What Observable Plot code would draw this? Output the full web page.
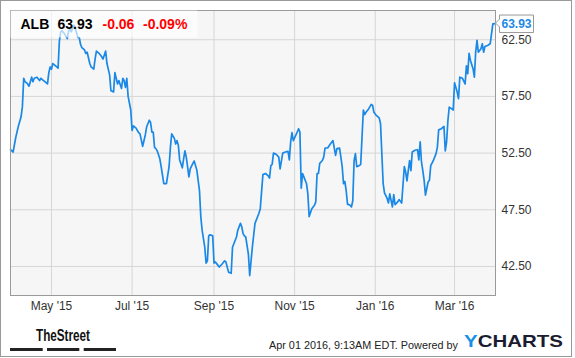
<!DOCTYPE html>
<html><head><meta charset="utf-8">
<script src="https://cdn.jsdelivr.net/npm/d3@7"></script>
<script src="https://cdn.jsdelivr.net/npm/@observablehq/plot@0.6"></script>
<style>
html,body{margin:0;padding:0;background:#fff;}
#chart{position:absolute;left:0;top:0;width:575px;height:358px;overflow:hidden;}
</style>
</head><body>
<div id="chart"></div>
<script>
const ticker = "ALB";
const lastPrice = "63.93";
const change = "-0.06";
const changePct = "-0.09%";
const stamp = "Apr 01 2016, 9:13AM EDT. Powered by";

const dates = [
"2015-03-31","2015-04-02","2015-04-04","2015-04-06","2015-04-08","2015-04-09","2015-04-10","2015-04-11","2015-04-13","2015-04-14",
"2015-04-16","2015-04-17","2015-04-18","2015-04-20","2015-04-22","2015-04-23","2015-04-25","2015-04-26","2015-04-28","2015-04-29",
"2015-04-30","2015-05-01","2015-05-02","2015-05-03","2015-05-05","2015-05-06","2015-05-07","2015-05-08","2015-05-09","2015-05-11",
"2015-05-13","2015-05-14","2015-05-15","2015-05-16","2015-05-18","2015-05-19","2015-05-21","2015-05-22","2015-05-23","2015-05-24",
"2015-05-26","2015-05-27","2015-05-28","2015-05-30","2015-05-31","2015-06-02","2015-06-03","2015-06-04","2015-06-06","2015-06-08",
"2015-06-09","2015-06-11","2015-06-12","2015-06-14","2015-06-15","2015-06-17","2015-06-18","2015-06-20","2015-06-21","2015-06-23",
"2015-06-24","2015-06-25","2015-06-26","2015-06-27","2015-06-28","2015-06-30","2015-07-01","2015-07-02","2015-07-04","2015-07-06",
"2015-07-07","2015-07-09","2015-07-11","2015-07-12","2015-07-14","2015-07-15","2015-07-16","2015-07-17","2015-07-18","2015-07-19",
"2015-07-20","2015-07-22","2015-07-23","2015-07-25","2015-07-26","2015-07-27","2015-07-29","2015-07-30","2015-07-31","2015-08-02",
"2015-08-03","2015-08-04","2015-08-05","2015-08-06","2015-08-08","2015-08-09","2015-08-10","2015-08-11","2015-08-12","2015-08-13",
"2015-08-14","2015-08-16","2015-08-17","2015-08-19","2015-08-20","2015-08-21","2015-08-22","2015-08-23","2015-08-25","2015-08-26",
"2015-08-27","2015-08-28","2015-08-29","2015-08-31","2015-09-01","2015-09-02","2015-09-03","2015-09-05","2015-09-07","2015-09-09",
"2015-09-10","2015-09-12","2015-09-14","2015-09-15","2015-09-16","2015-09-18","2015-09-19","2015-09-21","2015-09-22","2015-09-23",
"2015-09-24","2015-09-25","2015-09-27","2015-09-28","2015-09-30","2015-10-02","2015-10-05","2015-10-06","2015-10-08","2015-10-10",
"2015-10-12","2015-10-13","2015-10-14","2015-10-15","2015-10-16","2015-10-18","2015-10-20","2015-10-21","2015-10-23","2015-10-25",
"2015-10-27","2015-10-28","2015-10-29","2015-10-30","2015-10-31","2015-11-02","2015-11-04","2015-11-05","2015-11-06","2015-11-07",
"2015-11-08","2015-11-10","2015-11-11","2015-11-12","2015-11-14","2015-11-16","2015-11-17","2015-11-18","2015-11-19","2015-11-20",
"2015-11-22","2015-11-23","2015-11-24","2015-11-26","2015-11-28","2015-11-30","2015-12-02","2015-12-03","2015-12-05","2015-12-06",
"2015-12-07","2015-12-08","2015-12-09","2015-12-10","2015-12-11","2015-12-13","2015-12-14","2015-12-15","2015-12-16","2015-12-17",
"2015-12-18","2015-12-20","2015-12-21","2015-12-23","2015-12-24","2015-12-25","2015-12-27","2015-12-29","2015-12-30","2015-12-31",
"2016-01-02","2016-01-04","2016-01-05","2016-01-06","2016-01-07","2016-01-08","2016-01-10","2016-01-11","2016-01-12","2016-01-14",
"2016-01-15","2016-01-16","2016-01-18","2016-01-19","2016-01-21","2016-01-23","2016-01-24","2016-01-25","2016-01-27","2016-01-28",
"2016-01-29","2016-01-31","2016-02-02","2016-02-03","2016-02-04","2016-02-05","2016-02-06","2016-02-07","2016-02-08","2016-02-10",
"2016-02-11","2016-02-12","2016-02-14","2016-02-16","2016-02-17","2016-02-18","2016-02-20","2016-02-22","2016-02-23","2016-02-24",
"2016-02-25","2016-02-26","2016-02-28","2016-02-29","2016-03-01","2016-03-03","2016-03-04","2016-03-05","2016-03-07","2016-03-09",
"2016-03-10","2016-03-11","2016-03-12","2016-03-13","2016-03-15","2016-03-16","2016-03-17","2016-03-18","2016-03-19","2016-03-20",
"2016-03-21","2016-03-22","2016-03-23","2016-03-24","2016-03-26","2016-03-28","2016-03-30","2016-04-01"
];
const prices = [
52.8,52.6,53.9,54.9,55.7,56.6,59.1,58.8,58.6,58.4,
59.2,58.8,59.1,59.2,58.9,59.1,58.9,58.8,58.6,59.6,
60.1,59.9,60.4,60.3,60.1,60.0,62.4,63.2,63.3,63.0,
62.6,63.3,63.4,63.2,63.8,63.5,62.7,62.7,62.1,61.8,
61.6,61.3,61.4,60.4,60.1,59.9,60.8,61.5,61.3,61.0,
60.8,61.5,60.4,59.4,58.0,57.9,59.6,58.6,58.9,58.2,
59.1,58.9,58.3,59.1,57.5,56.3,54.5,54.9,54.7,54.3,
54.2,53.1,54.1,54.8,55.4,55.2,54.35,54.35,53.0,52.9,
52.7,52.0,51.3,49.8,49.8,49.8,51.3,53.0,54.2,53.8,
53.3,53.6,53.2,51.9,51.2,52.0,52.7,52.15,51.3,50.4,
51.1,51.6,51.8,51.0,50.1,49.2,46.9,45.7,44.2,42.8,
43.0,45.2,45.3,45.2,42.8,42.9,42.75,42.45,42.7,43.0,
42.9,42.0,41.9,44.2,44.5,45.1,45.7,46.3,46.0,45.4,
45.2,45.1,43.6,41.7,44.2,46.3,47.2,47.6,50.6,50.7,
50.5,50.3,51.4,51.5,52.5,52.4,52.15,51.1,52.5,52.6,
52.65,51.9,53.5,54.3,53.6,54.1,54.65,54.35,49.4,50.7,
50.4,49.8,48.9,46.9,47.6,47.9,48.2,50.7,50.7,51.6,
51.85,52.15,52.95,52.95,53.3,53.6,52.3,52.9,52.95,52.15,
51.3,49.8,50.0,49.2,48.0,47.9,47.75,48.3,51.85,52.45,
51.3,51.4,51.5,56.3,55.9,56.1,56.4,56.8,56.7,56.1,
55.8,55.6,55.1,52.45,49.8,49.0,48.5,48.1,48.9,47.75,
48.85,47.95,48.2,48.4,48.1,51.3,50.85,50.05,51.85,50.95,
52.6,52.75,52.8,51.9,53.5,51.7,50.95,50.1,48.8,49.95,
50.1,51.4,51.85,52.45,53.0,54.55,54.65,54.85,52.7,53.5,
55.4,56.55,56.4,56.3,58.7,57.9,57.3,59.2,59.1,58.6,
60.2,59.5,61.3,60.7,59.95,59.2,61.4,62.45,61.4,61.55,
61.7,62.15,61.4,61.9,62.0,62.15,63.9,63.93
];
const xTickDates = ["2015-05-01","2015-07-01","2015-09-01","2015-11-01","2016-01-01","2016-03-01"];
const yTickValues = [42.5, 47.5, 52.5, 57.5, 62.5];
const xDomain = ["2015-03-31","2016-04-01"];
const yDomain = [39.94, 65.08];

const data = dates.map((d, i) => ({date: new Date(d), price: prices[i]}));
const xTicks = xTickDates.map(d => new Date(d));
const blue = "#1a88e6";
const gridColor = "#d6d6d6";

const plot = Plot.plot({
  width: 575, height: 358,
  marginTop: 10, marginRight: 80, marginBottom: 63, marginLeft: 10,
  style: {fontFamily: "'Liberation Sans', Arial, sans-serif", fontSize: "12px", color: "#333", background: "#fff", overflow: "visible"},
  x: {type: "utc", domain: xDomain.map(d => new Date(d)), ticks: xTicks, tickFormat: d3.utcFormat("%b '%y"), tickSize: 0, tickPadding: 6, label: null},
  y: {domain: yDomain, axis: "right", ticks: yTickValues, tickFormat: d3.format(".2f"), tickSize: 0, tickPadding: 6, label: null},
  marks: [
    Plot.frame({fill: "#f6f6f6", stroke: null}),
    Plot.ruleX(xTicks, {stroke: gridColor, strokeWidth: 1}),
    Plot.ruleY(yTickValues, {stroke: gridColor, strokeWidth: 1}),
    Plot.line(data, {x: "date", y: "price", stroke: blue, strokeWidth: 1.7, curve: "linear"}),
    Plot.frame({stroke: "#9a9a9a", fill: null})
  ]
});
document.getElementById("chart").appendChild(plot);

const svg = d3.select(plot);
const xs = plot.scale("x"), ys = plot.scale("y");
const last = data[data.length - 1];
const lx = xs.apply(last.date), ly = ys.apply(last.price);
const font = "'Liberation Sans', Arial, sans-serif";

// header overlay
svg.append("rect").attr("x", 10.5).attr("y", 10.5).attr("width", 187).attr("height", 27)
  .attr("fill", "#fff").attr("fill-opacity", 0.65);
const hdr = svg.append("g").attr("font-family", font).attr("font-size", 14).attr("font-weight", "bold").attr("text-anchor", "start");
hdr.append("text").attr("x", 20.5).attr("y", 29.3).attr("fill", "#000").text(ticker);
hdr.append("text").attr("x", 57.5).attr("y", 29.3).attr("fill", "#000").text(lastPrice);
hdr.append("text").attr("x", 102.5).attr("y", 29.3).attr("fill", "#f00").text(change);
hdr.append("text").attr("x", 143).attr("y", 29.3).attr("fill", "#f00").text(changePct);

// last value label
const bx = lx + 4.5, by0 = ly - 8, by1 = ly + 9.5, bw = 34;
svg.append("path")
  .attr("d", `M${lx + 0.5},${ly} L${bx},${by0 + 4} L${bx},${by0} L${bx + bw},${by0} L${bx + bw},${by1} L${bx},${by1} L${bx},${ly + 4} Z`)
  .attr("fill", "#fff").attr("stroke", "#999").attr("stroke-width", 1);
svg.append("text").attr("x", bx + bw / 2).attr("y", ly + 5.3).attr("text-anchor", "middle")
  .attr("font-family", font).attr("font-size", 12).attr("font-weight", "bold").attr("fill", blue).text(lastPrice);

// footer
const ft = svg.append("g").attr("text-anchor", "start");
ft.append("text").attr("x", 36).attr("y", 341.3).attr("font-family", "'Liberation Sans Narrow', 'Liberation Sans', Arial, sans-serif")
  .attr("font-size", 16).attr("font-weight", "bold").attr("fill", "#111")
  .attr("textLength", 54).attr("lengthAdjust", "spacingAndGlyphs").text("TheStreet");
[[10, 32.7], [47, 32.3], [83.7, 32.3]].forEach(([x, w]) =>
  ft.append("rect").attr("x", x).attr("y", 348).attr("width", w).attr("height", 3).attr("fill", "#222"));
ft.append("text").attr("x", 269).attr("y", 349.3).attr("font-family", font).attr("font-size", 11)
  .attr("fill", "#222").attr("textLength", 189).attr("lengthAdjust", "spacingAndGlyphs").text(stamp);
const yc = ft.append("text").attr("x", 464).attr("y", 347.3).attr("font-family", font)
  .attr("font-size", 17).attr("font-weight", "bold").attr("textLength", 99).attr("lengthAdjust", "spacingAndGlyphs");
yc.append("tspan").attr("fill", "#1a8fe8").text("Y");
yc.append("tspan").attr("fill", "#1c1c30").text("CHARTS");

// outer border
svg.append("rect").attr("x", 0.5).attr("y", 0.5).attr("width", 571).attr("height", 356)
  .attr("fill", "none").attr("stroke", "#999");
</script>
</body></html>
